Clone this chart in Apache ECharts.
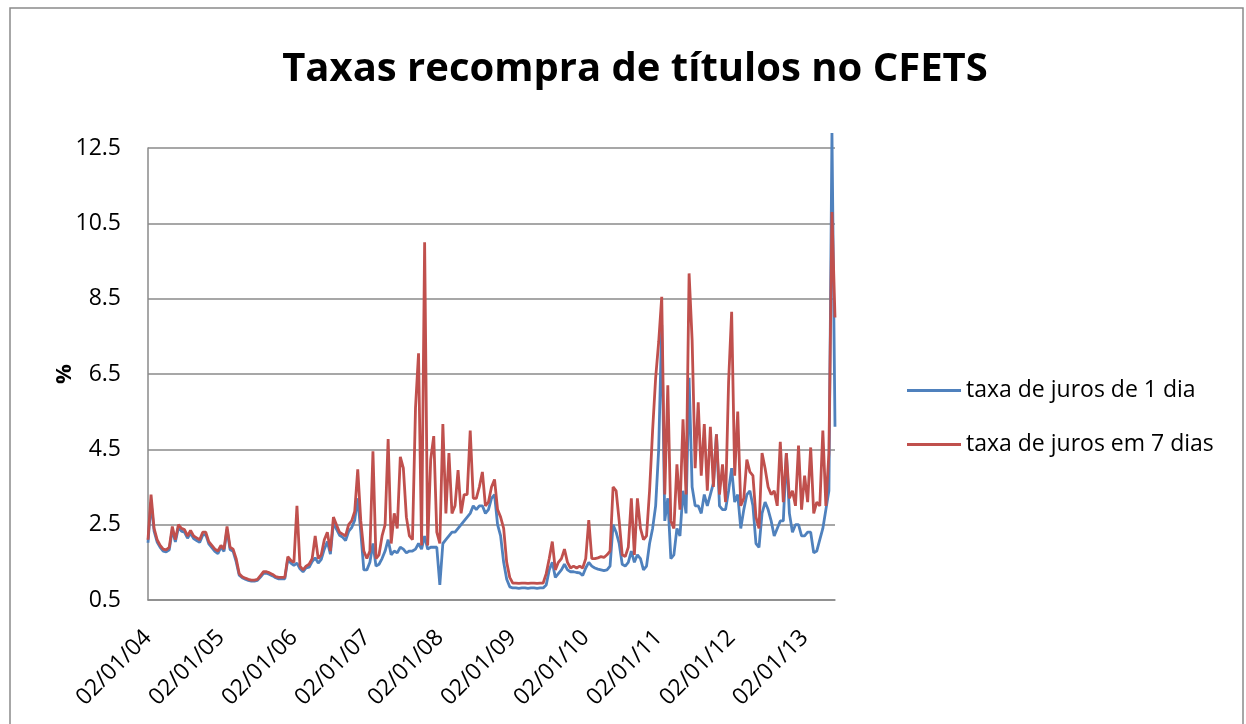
<!DOCTYPE html>
<html>
<head>
<meta charset="utf-8">
<title>Taxas recompra de títulos no CFETS</title>
<script src="https://cdn.jsdelivr.net/npm/echarts@6/dist/echarts.min.js"></script>
<style>
  html, body { margin: 0; padding: 0; background: #fff; }
  #container { width: 1246px; height: 724px; }
</style>
</head>
<body>
<div id="container"></div>
<script>
  // datas quinzenais (dia 02 e 16 de cada mês), de 02/01/04 até 02/06/13
  const firstYear = 2004
  const pointCount = 227
  const tickLabels = ['02/01/04', '02/01/05', '02/01/06', '02/01/07', '02/01/08', '02/01/09', '02/01/10', '02/01/11', '02/01/12', '02/01/13']
  const yTicks = [0.5, 2.5, 4.5, 6.5, 8.5, 10.5, 12.5]

  // taxa de juros de 1 dia (%)
  const rate1d = [
    2.02, 3.1, 2.33, 2.04, 1.9, 1.8, 1.78, 1.83, 2.37, 2.04, 2.42, 2.33, 2.3, 2.14, 2.27, 2.13, 2.08, 2.03, 2.22, 2.24, 1.99, 1.89, 1.79, 1.73,
    1.9, 1.79, 2.37, 1.84, 1.79, 1.52, 1.16, 1.09, 1.05, 1.02, 1.0, 1.0, 1.02, 1.11, 1.21, 1.21, 1.18, 1.14, 1.09, 1.06, 1.06, 1.06, 1.58, 1.48,
    1.42, 1.48, 1.33, 1.25, 1.35, 1.37, 1.52, 1.62, 1.48, 1.58, 1.85, 2.05, 1.72, 2.55, 2.38, 2.22, 2.17, 2.08, 2.32, 2.42, 2.62, 3.2, 2.3, 1.3,
    1.3, 1.5, 2.0, 1.4, 1.45, 1.6, 1.8, 2.1, 1.7, 1.8, 1.75, 1.9, 1.85, 1.75, 1.8, 1.8, 1.85, 2.0, 1.85, 2.2, 1.85, 1.9, 1.9, 1.9,
    0.9, 2.0, 2.1, 2.2, 2.3, 2.3, 2.4, 2.5, 2.6, 2.7, 2.8, 3.0, 2.9, 3.0, 3.0, 2.8, 2.9, 3.2, 3.3, 2.5, 2.2, 1.5, 1.05, 0.85,
    0.82, 0.82, 0.81, 0.82, 0.82, 0.81, 0.82, 0.82, 0.81, 0.82, 0.82, 0.9, 1.3, 1.5, 1.1, 1.2, 1.3, 1.45, 1.3, 1.25, 1.25, 1.23, 1.22, 1.15,
    1.35, 1.5, 1.4, 1.35, 1.32, 1.3, 1.28, 1.3, 1.4, 2.5, 2.3, 2.0, 1.45, 1.4, 1.5, 1.8, 1.5, 1.7, 1.6, 1.3, 1.4, 2.0, 2.4, 3.0,
    4.5, 7.8, 2.6, 3.2, 1.6, 1.7, 2.4, 2.2, 3.4, 2.8, 6.4, 3.5, 3.0, 3.0, 2.8, 3.3, 3.0, 3.3, 3.6, 4.9, 3.0, 2.9, 2.9, 3.4,
    4.0, 3.1, 3.3, 2.4, 2.9, 3.3, 3.4, 3.0, 2.0, 1.9, 2.8, 3.1, 2.9, 2.6, 2.2, 2.4, 2.6, 2.6, 4.4, 2.8, 2.3, 2.5, 2.5, 2.2,
    2.2, 2.3, 2.3, 1.75, 1.8, 2.1, 2.4, 2.9, 3.4, 12.9, 5.1
  ]

  // taxa de juros em 7 dias (%)
  const rate7d = [
    2.1, 3.3, 2.4, 2.1, 1.95, 1.85, 1.83, 1.9, 2.45, 2.1, 2.5, 2.4, 2.37, 2.2, 2.35, 2.2, 2.15, 2.1, 2.3, 2.3, 2.05, 1.95, 1.85, 1.8,
    1.95, 1.85, 2.45, 1.9, 1.85, 1.6, 1.2, 1.12, 1.08, 1.05, 1.03, 1.03, 1.05, 1.15, 1.25, 1.25, 1.22, 1.18, 1.12, 1.1, 1.1, 1.1, 1.65, 1.55,
    1.5, 3.0, 1.4, 1.3, 1.4, 1.45, 1.6, 2.2, 1.6, 1.7, 2.1, 2.3, 1.8, 2.7, 2.5, 2.3, 2.25, 2.2, 2.5, 2.6, 2.85, 3.97, 2.6, 1.8,
    1.6, 1.8, 4.45, 1.6, 1.7, 2.2, 2.5, 4.77, 2.0, 2.8, 2.4, 4.3, 4.0, 2.7, 2.2, 2.1, 5.6, 7.05, 1.95, 10.0, 1.95, 4.23, 4.85, 2.3,
    2.0, 5.17, 2.8, 4.4, 2.8, 3.0, 3.95, 2.8, 3.3, 3.3, 5.0, 3.2, 3.2, 3.5, 3.9, 3.0, 3.1, 3.5, 3.7, 2.9, 2.7, 2.4, 1.5, 1.1,
    0.95, 0.95, 0.94, 0.95, 0.95, 0.94, 0.95, 0.95, 0.94, 0.95, 0.95, 1.2, 1.6, 2.05, 1.3, 1.5, 1.6, 1.85, 1.5, 1.35, 1.4, 1.35, 1.4, 1.35,
    1.6, 2.62, 1.6, 1.6, 1.62, 1.65, 1.63, 1.7, 1.8, 3.5, 3.4, 2.6, 1.7, 1.65, 1.9, 3.2, 1.7, 3.2, 2.4, 2.1, 2.2, 3.4, 5.0, 6.4,
    7.35, 8.55, 3.3, 6.2, 2.6, 2.4, 4.1, 2.9, 5.3, 3.3, 9.17, 7.4, 4.0, 5.75, 3.8, 5.17, 3.4, 5.1, 3.5, 4.9, 3.3, 4.1, 3.1, 6.3,
    8.15, 3.8, 5.5, 3.0, 3.2, 4.23, 3.9, 3.8, 2.7, 2.4, 4.4, 4.0, 3.5, 3.3, 3.4, 3.0, 4.7, 3.1, 4.4, 3.2, 3.4, 3.0, 4.6, 2.9,
    3.8, 3.1, 4.55, 2.8, 3.1, 3.0, 5.0, 3.0, 4.4, 10.8, 8.0
  ]

  const categories = []
  for (let i = 0; i < pointCount; i++) {
    const year = firstYear + Math.floor(i / 24)
    const month = Math.floor((i % 24) / 2) + 1
    const day = i % 2 === 0 ? '02' : '16'
    categories.push(day + '/' + String(month).padStart(2, '0') + '/' + String(year % 100).padStart(2, '0'))
  }

  const font = 'Open Sans'
  const myChart = echarts.init(document.getElementById('container'))
  myChart.setOption({
    animation: false,
    backgroundColor: '#fff',
    color: ['#4F81BD', '#C0504D'],
    textStyle: { fontFamily: font },
    title: {
      text: 'Taxas recompra de títulos no CFETS',
      left: 630,
      top: 45,
      textAlign: 'center',
      textStyle: { fontFamily: font, fontWeight: 'bold', fontSize: 40, color: '#000' }
    },
    graphic: [{
      type: 'rect',
      shape: { x: 10, y: 8, width: 1233, height: 740 },
      style: { fill: 'none', stroke: '#8a8a8a', lineWidth: 1.5 },
      silent: true
    }],
    legend: {
      orient: 'vertical',
      left: 902,
      top: 374,
      itemWidth: 54,
      itemHeight: 3,
      itemGap: 31,
      icon: 'rect',
      textStyle: { fontFamily: font, fontSize: 23, color: '#000' },
      data: ['taxa de juros de 1 dia', 'taxa de juros em 7 dias']
    },
    grid: { left: 148, right: 411, top: 148, bottom: 124 },
    xAxis: {
      type: 'category',
      boundaryGap: false,
      data: categories,
      axisLine: { lineStyle: { color: '#8a8a8a', width: 1.5 } },
      axisTick: { show: false },
      axisLabel: {
        interval: function(index) { return index % 24 === 0 },
        formatter: function(value) { return tickLabels.indexOf(value) >= 0 ? value : '' },
        rotate: 45,
        margin: 34,
        fontSize: 23,
        color: '#000',
        fontFamily: font
      },
      splitLine: { show: false }
    },
    yAxis: {
      type: 'value',
      min: yTicks[0],
      max: yTicks[yTicks.length - 1],
      interval: 2,
      name: '%',
      nameLocation: 'middle',
      nameRotate: 90,
      nameGap: 72,
      nameMoveOverlap: false,
      nameTextStyle: { fontFamily: font, fontWeight: 'bold', fontSize: 22, color: '#000' },
      axisLine: { show: true, lineStyle: { color: '#8a8a8a', width: 1.5 } },
      axisTick: { show: false },
      axisLabel: {
        margin: 27,
        fontSize: 23,
        color: '#000',
        fontFamily: font,
        formatter: function(v) { return v.toFixed(1) }
      },
      splitLine: { lineStyle: { color: '#8a8a8a', width: 1.5 } }
    },
    series: [{
      name: 'taxa de juros de 1 dia',
      type: 'line',
      symbol: 'none',
      clip: false,
      lineStyle: { width: 2.8 },
      data: rate1d
    }, {
      name: 'taxa de juros em 7 dias',
      type: 'line',
      symbol: 'none',
      clip: false,
      lineStyle: { width: 2.8 },
      data: rate7d
    }]
  })
</script>
</body>
</html>
